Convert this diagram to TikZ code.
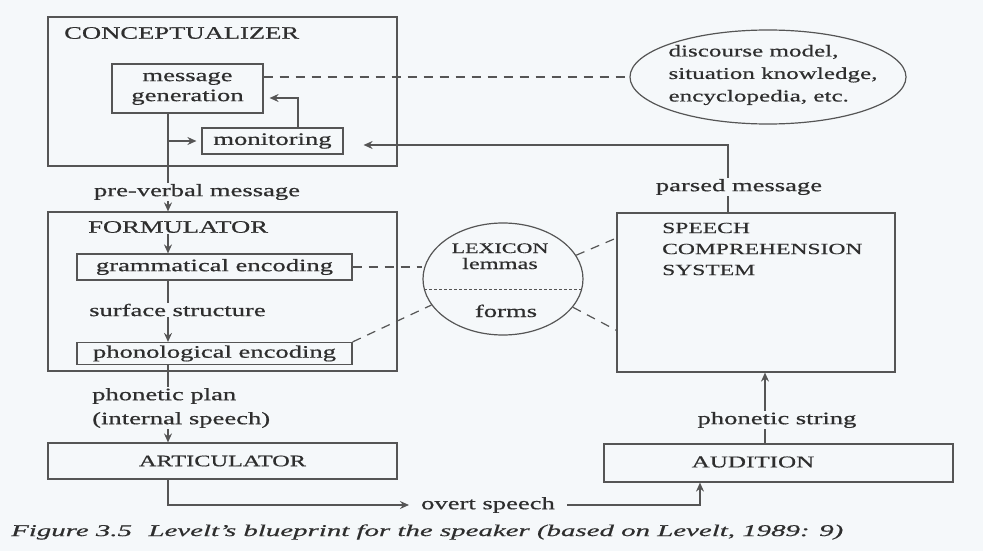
\documentclass[tikz,border=0pt]{standalone}
\usepackage{fontspec}
\setmainfont[FakeStretch=1.52, FakeBold=0.6]{Liberation Serif}
\newfontfamily\capfont[FakeStretch=1.75, FakeBold=0.6]{Liberation Serif}
\usetikzlibrary{arrows.meta,shapes.geometric,calc}
\definecolor{ink}{HTML}{2E2E2E}
\definecolor{rule}{HTML}{555555}
\definecolor{paper}{HTML}{F5F8FA}
\begin{document}
\begin{tikzpicture}[x=1pt,y=-1pt,
  font=\fontsize{17.5}{22}\selectfont, text=ink,
  box/.style={draw=rule, line width=1.2pt, inner sep=0pt, rectangle},
  blob/.style={draw=rule, line width=1.2pt, ellipse, inner sep=0pt},
  lbl/.style={inner sep=1pt},
  flow/.style={draw=rule, line width=1.2pt},
  arr/.style={flow, -{Stealth[length=9pt,width=8pt,inset=3pt]}},
  link/.style={draw=rule, line width=1.2pt, dash pattern=on 9pt off 7pt},
  seam/.style={draw=rule, line width=1pt, dash pattern=on 3pt off 2pt}]
\fill[paper] (0,0) rectangle (983,551);
\useasboundingbox (0,0) rectangle (983,551);

% guide coordinates for the vertical runs
\coordinate (spine) at (168,0);
\coordinate (fb) at (298,98);
\coordinate (pm) at (728,145);
\coordinate (ps) at (765,0);
\coordinate (ain) at (700,0);

% conceptualizer
\node[box, minimum width=349pt, minimum height=149pt] (concept) at (222.5,91.5) {};
\node[lbl, anchor=west] (conlabel) at (63,33) {CONCEPTUALIZER};
\node[box, minimum width=151pt, minimum height=49pt, align=center,
      font=\fontsize{17.5}{20}\selectfont] (msggen) at (187.5,88.5) {message\\generation};
\node[box, minimum width=141pt, minimum height=26pt] (monitor) at (272.5,141) {monitoring};

% world knowledge
\node[blob, minimum width=276pt, minimum height=94pt] (world) at (768,77) {};
\node[lbl, align=left, font=\fontsize{16.5}{22.5}\selectfont] (worldtext) at (773,75)
  {discourse model,\\situation knowledge,\\encyclopedia, etc.};

% formulator
\node[lbl] (prev) at (197,192) {pre-verbal message};
\node[box, minimum width=349pt, minimum height=159pt] (form) at (222.5,291.5) {};
\node[lbl, anchor=west] (formlabel) at (87,227) {FORMULATOR};
\node[box, minimum width=275pt, minimum height=26pt] (gram) at (214.5,267) {grammatical encoding};
\node[lbl, anchor=west] (surf) at (88,310) {surface structure};
\node[box, minimum width=275pt, minimum height=22pt] (phon) at (214.5,353.5) {phonological encoding};

% articulator
\node[lbl, anchor=west, align=left, font=\fontsize{17.5}{24}\selectfont] (plan) at (91,408)
  {phonetic plan\\(internal speech)};
\node[box, minimum width=349pt, minimum height=36pt, font=\fontsize{16}{20}\selectfont] (artic) at (222.5,461) {ARTICULATOR};

% lexicon
\node[blob, minimum width=160pt, minimum height=112pt] (lex) at (503,279) {};
\node[lbl, anchor=base, font=\fontsize{14.5}{18}\selectfont] (lexname) at (500,253) {LEXICON};
\node[lbl, anchor=base, font=\fontsize{16}{20}\selectfont] (lemmas) at (500,269) {lemmas};
\node[lbl, anchor=base] (forms) at (506,317) {forms};
\draw[seam] ($(lex.center)+(-78.7,10)$) -- ($(lex.center)+(78.7,10)$);

% comprehension side
\node[lbl] (parsed) at (739,187) {parsed message};
\node[box, minimum width=278pt, minimum height=159pt] (speech) at (756,292.5) {};
\node[lbl, anchor=west, align=left, font=\fontsize{15.5}{21}\selectfont] (speechname) at (661,249)
  {SPEECH\\COMPREHENSION\\SYSTEM};
\node[lbl] (pstr) at (777,420) {phonetic string};
\node[box, minimum width=349pt, minimum height=38pt] (aud) at (778.5,463) {};
\node[lbl, font=\fontsize{16.5}{20}\selectfont] (audname) at (753,462) {AUDITION};
\node[lbl, inner xsep=12pt] (overt) at (488,505) {overt speech};

% caption
\node[lbl, anchor=west, font=\fontsize{16.5}{22}\capfont\itshape] (caption) at (10,532)
  {Figure 3.5\quad Levelt’s blueprint for the speaker (based on Levelt, 1989: 9)};

% production flow
\draw[flow] (msggen.south -| spine) -- (prev.north -| spine);
\draw[arr] (prev.south -| spine) -- (form.north -| spine);
\draw[arr, shorten >=5pt] (spine |- monitor.west) -- (monitor.west);
\draw[arr, shorten >=6pt] (monitor.north -| fb) |- (msggen.east |- fb);
\draw[arr] (formlabel.south -| spine) -- (gram.north -| spine);
\draw[flow] (gram.south -| spine) -- (surf.north -| spine);
\draw[arr] (surf.south -| spine) -- (phon.north -| spine);
\draw[flow] (phon.south -| spine) -- (plan.north -| spine);
\draw[arr] (plan.south -| spine) -- (artic.north -| spine);
\draw[arr] (artic.south -| spine) |- (overt.west);
\draw[arr] (overt.east) -| (aud.south -| ain);

% comprehension flow
\draw[flow] (aud.north -| ps) -- (pstr.south -| ps);
\draw[arr] (pstr.north -| ps) -- (speech.south -| ps);
\draw[flow] (speech.north -| pm) -- (parsed.south -| pm);
\draw[arr, shorten >=20pt] (parsed.north -| pm) |- (monitor.east |- pm);

% knowledge links
\draw[link] (msggen.east |- world.west) -- (world.west);
\draw[link] (gram.east) -- (gram.east -| lex.west);
\draw[link] (phon.north east) -- (lex.200);
\draw[link] (lex.18) -- ($(speech.north west)!0.16!(speech.south west)$);
\draw[link] (lex.338) -- ($(speech.north west)!0.736!(speech.south west)$);
\end{tikzpicture}
\end{document}
